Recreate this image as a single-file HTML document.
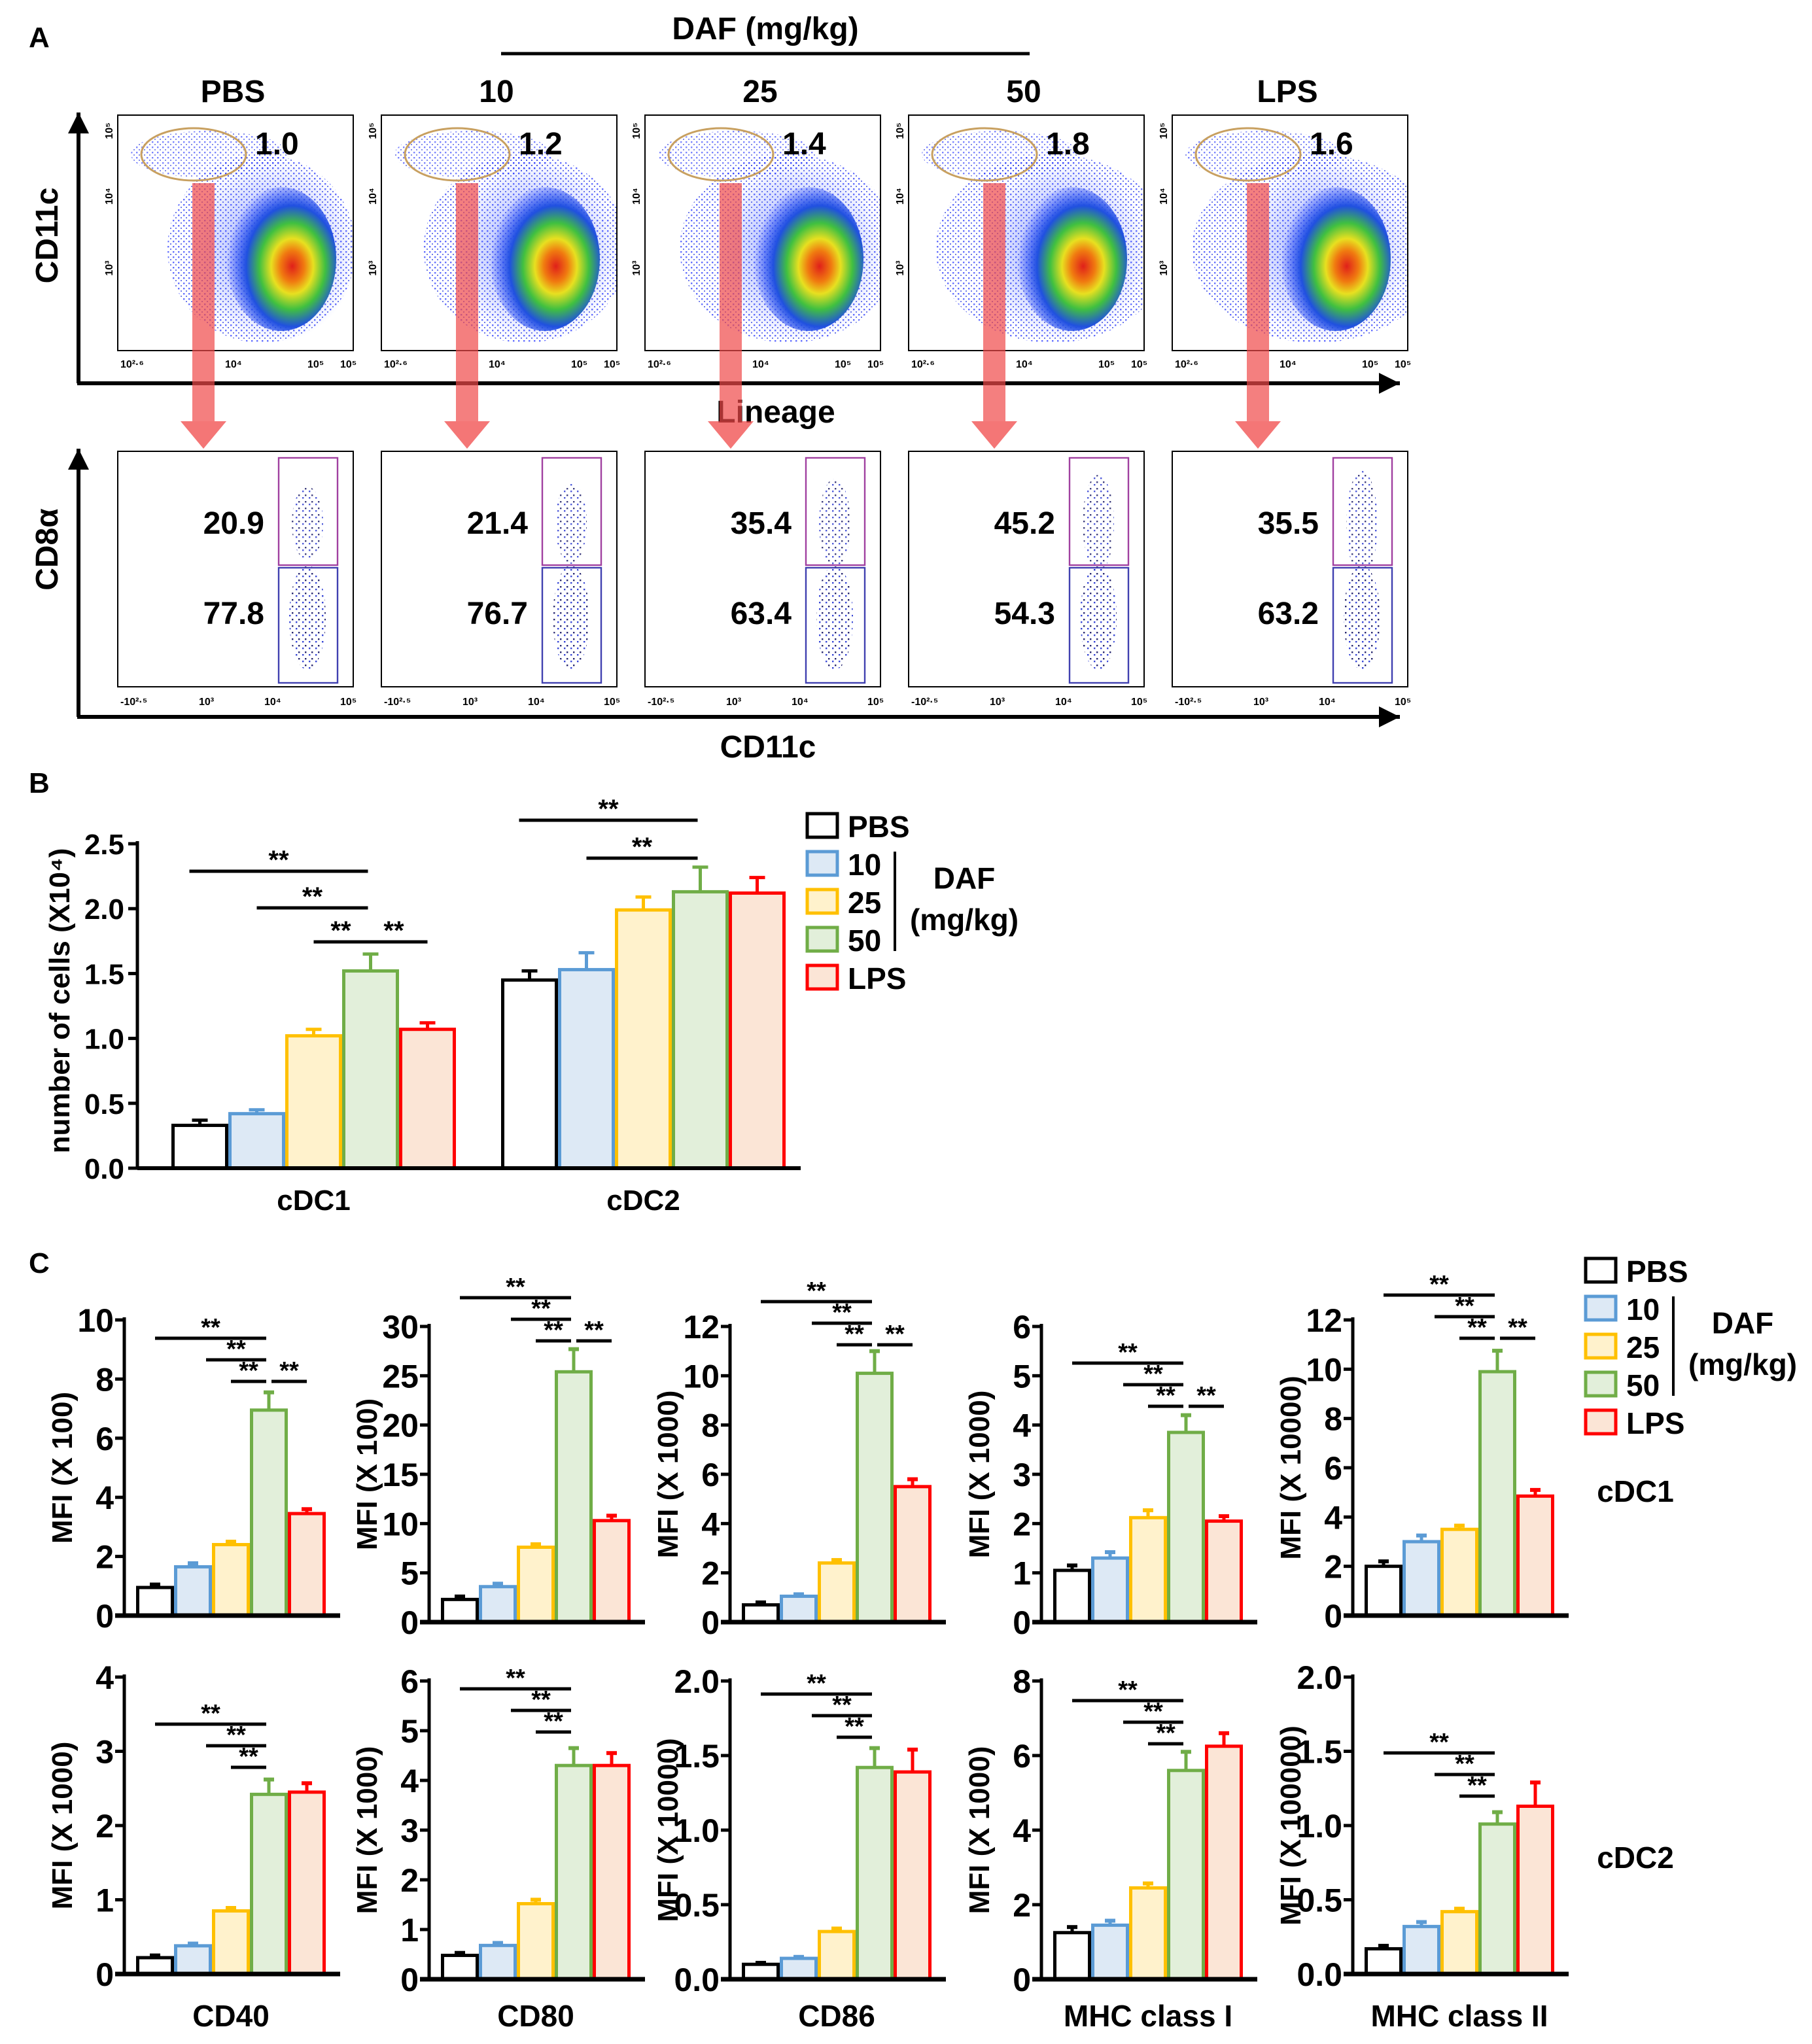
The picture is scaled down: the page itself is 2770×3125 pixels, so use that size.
<!DOCTYPE html>
<html><head><meta charset="utf-8">
<style>
html,body{margin:0;padding:0;background:#fff;}
svg{display:block;}
text{font-family:"Liberation Sans",Arial,sans-serif;font-weight:bold;fill:#000;}
.nar{font-family:"Liberation Sans Narrow","Liberation Sans",sans-serif;}
</style></head>
<body>
<svg id="fig" xmlns="http://www.w3.org/2000/svg" width="2770" height="3125" viewBox="0 0 1385 1562.5">
<defs id="defs">
<radialGradient id="heat" cx="0.6" cy="0.55" r="0.6">
<stop offset="0" stop-color="#e0201a"/>
<stop offset="0.18" stop-color="#f07a10"/>
<stop offset="0.32" stop-color="#e8e020"/>
<stop offset="0.5" stop-color="#40c040"/>
<stop offset="0.7" stop-color="#2050e0"/>
<stop offset="1" stop-color="#2040ff" stop-opacity="0"/>
</radialGradient>
<radialGradient id="haze" cx="0.5" cy="0.5" r="0.5">
<stop offset="0" stop-color="#3050ff" stop-opacity="0.55"/>
<stop offset="1" stop-color="#3050ff" stop-opacity="0"/>
</radialGradient>
<pattern id="dots" width="4" height="4" patternUnits="userSpaceOnUse">
<rect x="0" y="0" width="1.2" height="1.2" fill="#2030ff"/>
<rect x="2" y="2" width="1" height="1" fill="#3040e0"/>
</pattern>
<pattern id="dots2" width="5" height="5" patternUnits="userSpaceOnUse">
<rect x="1" y="0" width="1.2" height="1.2" fill="#2030d0"/>
<rect x="3" y="3" width="1.2" height="1.2" fill="#101060"/>
</pattern>
</defs>
<g id="panelA"></g>
<g id="panelB"></g>
<g id="panelC"></g>
</svg>
<script>
const NS='http://www.w3.org/2000/svg';
function mk(tag,attrs,parent,txt){const e=document.createElementNS(NS,tag);for(const k in attrs)e.setAttribute(k,attrs[k]);if(txt!==undefined)e.textContent=txt;parent.appendChild(e);return e;}

// ---------- Panel A data ----------
const flowGroups=['PBS','10','25','50','LPS'];
const gatePct=['1.0','1.2','1.4','1.8','1.6'];
const cd8pos=['20.9','21.4','35.4','45.2','35.5'];
const cd8neg=['77.8','76.7','63.4','54.3','63.2'];

// ---------- Panel B data ----------
const bCats=['cDC1','cDC2'];
const bSeries=['PBS','10','25','50','LPS'];
const bVals=[[0.33,0.42,1.02,1.52,1.07],[1.45,1.53,1.99,2.13,2.12]];
const bErr=[[0.04,0.03,0.05,0.13,0.05],[0.07,0.13,0.10,0.19,0.12]];
const bTicks=[0,0.5,1.0,1.5,2.0,2.5];
const bTickLabels=['0.0','0.5','1.0','1.5','2.0','2.5'];

// ---------- Panel C data ----------
const cMarkers=['CD40','CD80','CD86','MHC class I','MHC class II'];
const cDC1Vals=[[0.95,1.65,2.4,6.95,3.45],[2.3,3.6,7.6,25.4,10.3],[0.7,1.05,2.4,10.1,5.5],[1.05,1.3,2.12,3.85,2.05],[2.0,3.0,3.5,9.9,4.85]];
const cDC1Err=[[0.1,0.12,0.1,0.6,0.15],[0.3,0.3,0.3,2.3,0.5],[0.1,0.08,0.12,0.9,0.3],[0.1,0.12,0.15,0.35,0.1],[0.2,0.25,0.15,0.85,0.25]];
const cDC2Vals=[[0.22,0.38,0.85,2.42,2.45],[0.48,0.68,1.52,4.3,4.3],[0.1,0.14,0.32,1.42,1.39],[1.25,1.45,2.45,5.6,6.25],[0.17,0.32,0.42,1.01,1.13]];
const cDC2Err=[[0.03,0.03,0.04,0.2,0.12],[0.05,0.05,0.08,0.35,0.25],[0.01,0.01,0.02,0.13,0.15],[0.15,0.12,0.12,0.5,0.35],[0.02,0.03,0.02,0.08,0.16]];
const cDC1Max=[10,30,12,6,12];
const cDC1Step=[2,5,2,1,2];
const cDC2Max=[4,6,2.0,8,2.0];
const cDC2Step=[1,1,0.5,2,0.5];
const cDC1Titles=['MFI (X 100)','MFI (X 100)','MFI (X 1000)','MFI (X 1000)','MFI (X 10000)'];
const cDC2Titles=['MFI (X 1000)','MFI (X 1000)','MFI (X 10000)','MFI (X 1000)','MFI (X 100000)'];
const cDC1Comparisons=[[0,3],[1,3],[2,3],[3,4]];
const cDC2Comparisons=[[0,3],[1,3],[2,3]];

const fills=['#ffffff','#dde9f5','#fff2cc','#e2efda','#fbe5d6'];
const strokes=['#000000','#5b9bd5','#ffc000','#70ad47','#ff0000'];

// ===== Panel A =====
const A=document.getElementById('panelA');
const D=document.getElementById('defs');
let t=mk('text',{x:22,y:36,'font-size':22},A,'A');


t=mk('text',{x:585,y:30,'font-size':24,'text-anchor':'middle'},A,'DAF (mg/kg)');


let ln=mk('line',{x1:383,y1:41,x2:787,y2:41,stroke:'#000','stroke-width':2.5},A);


function arrow(x1,y1,x2,y2,name){
  const g=mk('g',{},A);
  
  
  mk('line',{x1:x1,y1:y1,x2:x2,y2:y2,stroke:'#000','stroke-width':3},g);
  if(x1===x2){mk('polygon',{points:`${x2-8},${y2+16} ${x2+8},${y2+16} ${x2},${y2}`,fill:'#000'},g);}
  else{mk('polygon',{points:`${x2-16},${y2-8} ${x2-16},${y2+8} ${x2},${y2}`,fill:'#000'},g);}
}
arrow(60,293,60,86,'top-y-axis-arrow');
arrow(59,293,1070,293,'top-x-axis-arrow');
arrow(60,548,60,343,'bottom-y-axis-arrow');
arrow(59,548,1070,548,'bottom-x-axis-arrow');
t=mk('text',{transform:'translate(44,180) rotate(-90)','font-size':24,'text-anchor':'middle'},A,'CD11c');


t=mk('text',{x:593,y:323,'font-size':24,'text-anchor':'middle'},A,'Lineage');


t=mk('text',{transform:'translate(44,420) rotate(-90)','font-size':24,'text-anchor':'middle'},A,'CD8α');


t=mk('text',{x:587,y:579,'font-size':24,'text-anchor':'middle'},A,'CD11c');



const plotX0=90, plotDX=201.5, pw=180;
flowGroups.forEach((gname,i)=>{
  const x=plotX0+i*plotDX;
  const cp=mk('clipPath',{id:'clipTop'+i},D);
  mk('rect',{x:x,y:88,width:pw,height:180},cp);
  const cp2=mk('clipPath',{id:'clipBot'+i},D);
  mk('rect',{x:x,y:345,width:pw,height:180},cp2);
  t=mk('text',{x:x+88,y:78,'font-size':24,'text-anchor':'middle'},A,gname);
  
  
  const g=mk('g',{},A);
  
  
  mk('rect',{x:x,y:88,width:pw,height:180,fill:'#fff'},g);
  const gi=mk('g',{'clip-path':`url(#clipTop${i})`},g);
  const spread=1+i*0.08;
  mk('ellipse',{cx:x+110,cy:190,rx:72*spread,ry:72,fill:'url(#dots)',opacity:0.7},gi);
  mk('ellipse',{cx:x+70,cy:118,rx:60,ry:18,fill:'url(#dots)',opacity:0.6},gi);
  mk('ellipse',{cx:x+118,cy:192,rx:65,ry:70,fill:'url(#haze)'},gi);
  mk('ellipse',{cx:x+125,cy:198,rx:42,ry:55,fill:'url(#heat)'},gi);
  mk('rect',{x:x,y:88,width:pw,height:180,fill:'none',stroke:'#000','stroke-width':1},g);
  mk('ellipse',{cx:x+58,cy:118,rx:40,ry:20,fill:'none',stroke:'#c8a060','stroke-width':1.5},g);
  t=mk('text',{x:x+105,y:118,'font-size':24},g,gatePct[i]);
  
  
  const tk=[['10²·⁶',x+2],['10⁴',x+82],['10⁵',x+145],['10⁵',x+170]];
  tk.forEach(k=>mk('text',{x:k[1],y:281,'font-size':8,'font-weight':'normal'},g,k[0]));
  mk('text',{transform:`translate(${x-4},100) rotate(-90)`,'font-size':8,'font-weight':'normal','text-anchor':'middle'},g,'10⁵');
  mk('text',{transform:`translate(${x-4},150) rotate(-90)`,'font-size':8,'font-weight':'normal','text-anchor':'middle'},g,'10⁴');
  mk('text',{transform:`translate(${x-4},205) rotate(-90)`,'font-size':8,'font-weight':'normal','text-anchor':'middle'},g,'10³');
  const g2=mk('g',{},A);
  
  
  mk('rect',{x:x,y:345,width:pw,height:180,fill:'#fff',stroke:'#000','stroke-width':1},g2);
  const g2i=mk('g',{'clip-path':`url(#clipBot${i})`},g2);
  mk('ellipse',{cx:x+145,cy:400,rx:12,ry:28+i*3,fill:'url(#dots2)',opacity:0.8},g2i);
  mk('ellipse',{cx:x+145,cy:472,rx:14,ry:40,fill:'url(#dots2)',opacity:0.9},g2i);
  mk('rect',{x:x+123,y:350,width:45,height:82,fill:'none',stroke:'#a040a0','stroke-width':1.2},g2);
  mk('rect',{x:x+123,y:434,width:45,height:88,fill:'none',stroke:'#4040b0','stroke-width':1.2},g2);
  t=mk('text',{x:x+112,y:408,'font-size':24,'text-anchor':'end'},g2,cd8pos[i]);
  
  
  t=mk('text',{x:x+112,y:477,'font-size':24,'text-anchor':'end'},g2,cd8neg[i]);
  
  
  const tk2=[['-10²·⁵',x+2],['10³',x+62],['10⁴',x+112],['10⁵',x+170]];
  tk2.forEach(k=>mk('text',{x:k[1],y:539,'font-size':8,'font-weight':'normal'},g2,k[0]));
  const ar=mk('g',{},A);
  
  
  mk('rect',{x:x+57,y:140,width:17,height:182,fill:'#f04848',opacity:0.7},ar);
  mk('polygon',{points:`${x+48},${322} ${x+83},${322} ${x+65.5},${343}`,fill:'#f04848',opacity:0.75},ar);
});

// ===== Panel B =====
const B=document.getElementById('panelB');
t=mk('text',{x:22,y:606,'font-size':22},B,'B');


const bAxX=105,bY0=893,bY1=645,bMax=2.5;
const bY=v=>bY0-(v/bMax)*(bY0-bY1);
const bGroupX=[131,383],bBarW=43.5;
bTicks.forEach((v,i)=>{
  ln=mk('line',{x1:bAxX-7,y1:bY(v),x2:bAxX,y2:bY(v),stroke:'#000','stroke-width':2.5},B);
  
  
  t=mk('text',{x:bAxX-10,y:bY(v)+8,'font-size':22,'text-anchor':'end'},B,bTickLabels[i]);
  
  
});
t=mk('text',{transform:'translate(53,765) rotate(-90)','font-size':22,'text-anchor':'middle'},B,'number of cells (X10⁴)');


bCats.forEach((c,ci)=>{
  bVals[ci].forEach((v,si)=>{
    const x=bGroupX[ci]+si*bBarW;
    const top=bY(v+bErr[ci][si]);
    ln=mk('line',{x1:x+bBarW/2,y1:bY(v),x2:x+bBarW/2,y2:top,stroke:strokes[si],'stroke-width':2.5},B);
    
    
    ln=mk('line',{x1:x+bBarW/2-6,y1:top,x2:x+bBarW/2+6,y2:top,stroke:strokes[si],'stroke-width':2.5},B);
    
    
    const r=mk('rect',{x:x+1.25,y:bY(v),width:bBarW-2.5,height:bY0-bY(v),fill:fills[si],stroke:strokes[si],'stroke-width':2.5},B);
    
    
  });
  t=mk('text',{x:bGroupX[ci]+bBarW*2.5,y:925,'font-size':22,'text-anchor':'middle'},B,c);
  
  
});
ln=mk('line',{x1:bAxX,y1:bY1-2,x2:bAxX,y2:bY0,stroke:'#000','stroke-width':2.5},B);


ln=mk('line',{x1:bAxX,y1:bY0,x2:612,y2:bY0,stroke:'#000','stroke-width':3},B);


const bComparisons=[[0,[0,3],[1,3],[2,3],[3,4]],[1,[0,3],[1,3]]];
const bBracketY=[[666,694,720,720],[627,656]];
bComparisons.forEach((cmp,k)=>{
  const ci=cmp[0];
  cmp.slice(1).forEach((pr,j)=>{
    const xa=bGroupX[ci]+(pr[0]+0.5)*bBarW+(pr[0]>0&&pr[1]===3&&j>0?0:-8);
    const xb=bGroupX[ci]+(pr[1]+0.5)*bBarW+(pr[1]===4?0:-2);
    const y=bBracketY[k][j];
    ln=mk('line',{x1:xa+(pr[0]===3?4:0),y1:y,x2:xb,y2:y,stroke:'#000','stroke-width':2.5},B);
    
    
    t=mk('text',{x:(xa+xb)/2,y:y-2,'font-size':20,'text-anchor':'middle'},B,'**');
    
    
  });
});
function legend(parent,x,y0,dy,prefix){
  bSeries.forEach((s,i)=>{
    const r=mk('rect',{x:x,y:y0+i*dy,width:23,height:18,fill:fills[i],stroke:strokes[i],'stroke-width':2.5},parent);
    
    
    const tt=mk('text',{x:x+31,y:y0+i*dy+18,'font-size':23},parent,s);
    
    
  });
  const l=mk('line',{x1:x+67,y1:y0+dy,x2:x+67,y2:y0+dy*3+18,stroke:'#000','stroke-width':2},parent);
  
  
  let tt=mk('text',{x:x+120,y:y0+dy*1.8+5,'font-size':23,'text-anchor':'middle'},parent,'DAF');
  
  
  tt=mk('text',{x:x+120,y:y0+dy*2.9+5,'font-size':23,'text-anchor':'middle'},parent,'(mg/kg)');
  
  
}
legend(B,617,622,29,'b');

// ===== Panel C =====
const C=document.getElementById('panelC');
t=mk('text',{x:22,y:973,'font-size':22},C,'C');


legend(C,1212,962,29,'c');
t=mk('text',{x:1250,y:1148,'font-size':23,'text-anchor':'middle'},C,'cDC1');


t=mk('text',{x:1250,y:1428,'font-size':23,'text-anchor':'middle'},C,'cDC2');


const cAxisX=[95,328,558,796,1034];
const rowLayout=[{top:[1009,1014,1014,1014,1009],bot:[1235,1240,1240,1240,1235],br:[1023,992,995,1042,990]},
                 {top:[1282,1285,1285,1285,1282],bot:[1509,1513,1513,1513,1509],br:[1318,1291,1295,1300,1340]}];
const cBarW=29;
function fmt(v,step){return step<1?v.toFixed(1):String(v);}
function miniChart(row,ci,vals,errs,max,step,title,cmps){
  const L=rowLayout[row];
  const ax=cAxisX[ci], y0=L.bot[ci], y1=L.top[ci];
  const yS=v=>y0-(v/max)*(y0-y1);
  const g=mk('g',{},C);
  
  
  for(let v=0;v<=max+1e-9;v+=step){
    let l=mk('line',{x1:ax-7,y1:yS(v),x2:ax,y2:yS(v),stroke:'#000','stroke-width':2.5},g);
    
    
    let tt=mk('text',{x:ax-8,y:yS(v)+9,'font-size':25,'text-anchor':'end','class':'nar'},g,fmt(Math.round(v*10)/10,step));
    
    
  }
  let tt=mk('text',{transform:`translate(${ax-40},${(y0+y1)/2}) rotate(-90)`,'font-size':22,'text-anchor':'middle'},g,title);
  
  
  vals.forEach((v,si)=>{
    const x=ax+9+si*cBarW;
    const top=yS(v+errs[si]);
    let l=mk('line',{x1:x+cBarW/2,y1:yS(v),x2:x+cBarW/2,y2:top,stroke:strokes[si],'stroke-width':2.5},g);
    
    
    l=mk('line',{x1:x+cBarW/2-4,y1:top,x2:x+cBarW/2+4,y2:top,stroke:strokes[si],'stroke-width':3},g);
    
    
    const r=mk('rect',{x:x+1.25,y:yS(v),width:cBarW-2.5,height:y0-yS(v),fill:fills[si],stroke:strokes[si],'stroke-width':2.5},g);
    
    
  });
  let l=mk('line',{x1:ax,y1:y1-2,x2:ax,y2:y0,stroke:'#000','stroke-width':2.5},g);
  
  
  l=mk('line',{x1:ax-7,y1:y0,x2:ax+165,y2:y0,stroke:'#000','stroke-width':3.5},g);
  
  
  cmps.forEach((pr,j)=>{
    const lvl=pr[1]===4?2:j;
    const y=L.br[ci]+lvl*16.5;
    let xa=ax+9+(pr[0]+0.5)*cBarW, xb=ax+9+(pr[1]+0.5)*cBarW;
    if(j===1)xa+=10;
    if(pr[0]===3)xa+=2; else xb-=2;
    const s=mk('line',{x1:xa,y1:y,x2:xb,y2:y,stroke:'#000','stroke-width':2.5},g);
    
    
    const m=mk('text',{x:(xa+xb)/2,y:y-2,'font-size':19,'text-anchor':'middle'},g,'**');
    
    
  });
  if(row===1){
    const xl=mk('text',{x:ax+9+2.5*cBarW,y:1549,'font-size':23,'text-anchor':'middle'},g,cMarkers[ci]);
    
    
  }
}
for(let i=0;i<5;i++){
  miniChart(0,i,cDC1Vals[i],cDC1Err[i],cDC1Max[i],cDC1Step[i],cDC1Titles[i],cDC1Comparisons);
  miniChart(1,i,cDC2Vals[i],cDC2Err[i],cDC2Max[i],cDC2Step[i],cDC2Titles[i],cDC2Comparisons);
}
</script>
</body></html>
